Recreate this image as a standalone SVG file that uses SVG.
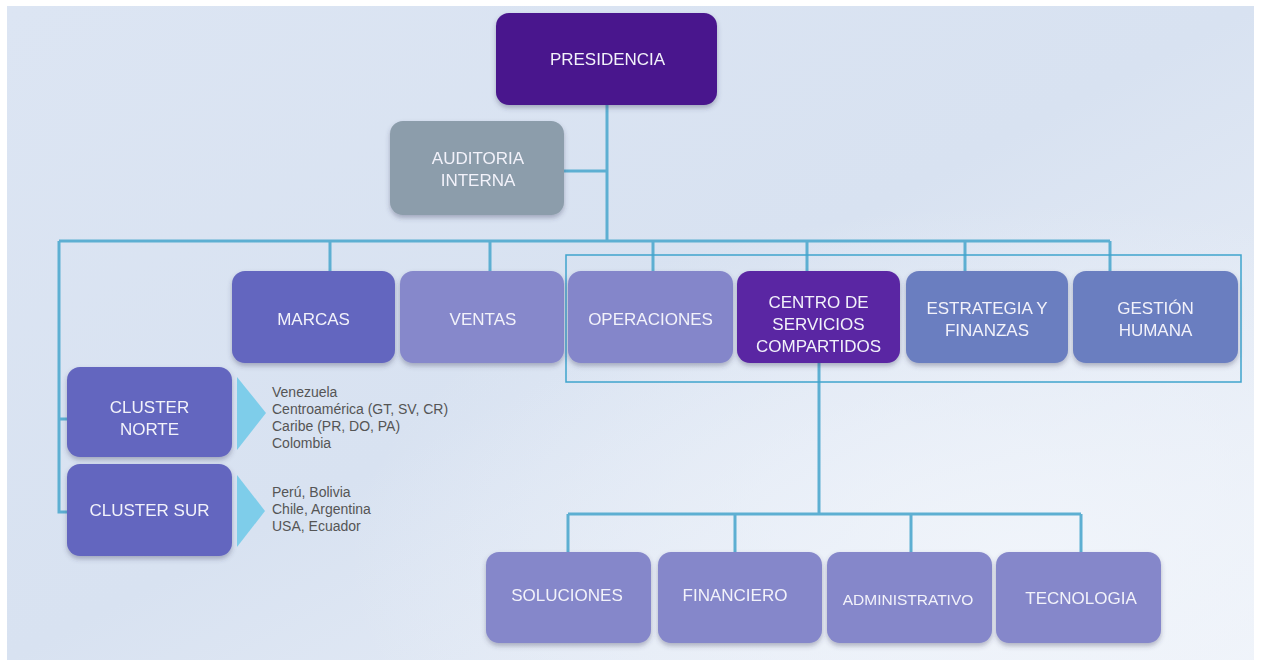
<svg xmlns="http://www.w3.org/2000/svg" width="1261" height="660" viewBox="0 0 1261 660">
<defs>
<linearGradient id="bg" x1="0" y1="0" x2="1" y2="1">
<stop offset="0" stop-color="#DCE5F3"/>
<stop offset="0.5" stop-color="#D8E2F1"/>
<stop offset="1" stop-color="#EEF2F9"/>
</linearGradient>
<radialGradient id="glow" cx="0.82" cy="0.85" r="0.55">
<stop offset="0" stop-color="#F1F5FB" stop-opacity="0.9"/>
<stop offset="1" stop-color="#F1F5FB" stop-opacity="0"/>
</radialGradient>
<filter id="sh" x="-10%" y="-10%" width="120%" height="130%">
<feDropShadow dx="0" dy="3" stdDeviation="2.5" flood-color="#3A3A60" flood-opacity="0.35"/>
</filter>
</defs>
<style>
.box{filter:url(#sh)}
.t{font-family:"Liberation Sans",Arial,sans-serif;font-size:17px;fill:#F2F2FA;text-anchor:middle}
.s{font-family:"Liberation Sans",Arial,sans-serif;font-size:14px;fill:#555555}
.ln{stroke:#5DAFD2;stroke-width:3;fill:none}
.fr{stroke:#3FA4CD;stroke-width:1.5;fill:none}
.tri{fill:#7ECDEA}
</style>
<rect x="0" y="0" width="1261" height="660" fill="#FFFFFF"/>
<rect x="7" y="6" width="1247" height="654" fill="url(#bg)"/>
<rect x="7" y="6" width="1247" height="654" fill="url(#glow)"/>

<g id="connectors">
<path class="ln" d="M607 105 V241"/>
<path class="ln" d="M564 171 H607"/>
<path class="ln" d="M59 241 H1110"/>
<path class="ln" d="M330 241 V271 M490 241 V271 M653 241 V271 M807 241 V271 M965 241 V271 M1110 241 V271"/>
<path class="ln" d="M59 241 V512 H67 M59 419 H67"/>
<path class="ln" d="M819 363 V514"/>
<path class="ln" d="M568 514 H1081 M568 514 V552 M735 514 V552 M911 514 V552 M1081 514 V552"/>
<rect class="fr" x="566" y="255" width="675" height="127"/>
</g>

<g id="presidencia" class="box"><rect x="496" y="13" width="221" height="92" rx="13" fill="#4A168D"/><text class="t" x="607.5" y="65">PRESIDENCIA</text></g>
<g id="auditoria" class="box"><rect x="390" y="121" width="174" height="94" rx="13" fill="#8C9DAB"/><text class="t" x="478" y="164">AUDITORIA</text><text class="t" x="478" y="186">INTERNA</text></g>

<g id="marcas" class="box"><rect x="232" y="271" width="163" height="92" rx="13" fill="#6366BF"/><text class="t" x="313.5" y="325">MARCAS</text></g>
<g id="ventas" class="box"><rect x="400" y="271" width="164" height="92" rx="13" fill="#8688CB"/><text class="t" x="483" y="325">VENTAS</text></g>
<g id="operaciones" class="box"><rect x="568" y="271" width="165" height="92" rx="13" fill="#8486CA"/><text class="t" x="650.5" y="325">OPERACIONES</text></g>
<g id="centro" class="box"><rect x="737" y="271" width="163" height="92" rx="13" fill="#5A26A3"/><text class="t" x="818.5" y="308">CENTRO DE</text><text class="t" x="818.5" y="330">SERVICIOS</text><text class="t" x="818.5" y="352">COMPARTIDOS</text></g>
<g id="estrategia" class="box"><rect x="906" y="271" width="162" height="92" rx="13" fill="#6B7EC0"/><text class="t" x="987" y="314">ESTRATEGIA Y</text><text class="t" x="987" y="336">FINANZAS</text></g>
<g id="gestion" class="box"><rect x="1073" y="271" width="165" height="92" rx="13" fill="#6B7EC0"/><text class="t" x="1155.5" y="314">GESTIÓN</text><text class="t" x="1155.5" y="336">HUMANA</text></g>

<g id="cluster-norte" class="box"><rect x="67" y="367" width="165" height="90" rx="13" fill="#6366BF"/><text class="t" x="149.5" y="413">CLUSTER</text><text class="t" x="149.5" y="435">NORTE</text></g>
<g id="cluster-sur" class="box"><rect x="67" y="464" width="165" height="92" rx="13" fill="#6366BF"/><text class="t" x="149.5" y="516">CLUSTER SUR</text></g>

<g id="norte-paises"><polygon class="tri" points="237,377 266,413 237,450"/><text class="s" x="272" y="397">Venezuela</text><text class="s" x="272" y="414">Centroamérica (GT, SV, CR)</text><text class="s" x="272" y="431">Caribe (PR, DO, PA)</text><text class="s" x="272" y="448">Colombia</text></g>
<g id="sur-paises"><polygon class="tri" points="237,475 265,511 237,547"/><text class="s" x="272" y="497">Perú, Bolivia</text><text class="s" x="272" y="514">Chile, Argentina</text><text class="s" x="272" y="531">USA, Ecuador</text></g>

<g id="soluciones" class="box"><rect x="486" y="552" width="165" height="91" rx="13" fill="#8587CA"/><text class="t" x="567" y="601">SOLUCIONES</text></g>
<g id="financiero" class="box"><rect x="658" y="552" width="164" height="91" rx="13" fill="#8587CA"/><text class="t" x="735" y="601">FINANCIERO</text></g>
<g id="administrativo" class="box"><rect x="827" y="552" width="165" height="91" rx="13" fill="#8587CA"/><text class="t" x="908" y="605" style="font-size:15.5px">ADMINISTRATIVO</text></g>
<g id="tecnologia" class="box"><rect x="996" y="552" width="165" height="91" rx="13" fill="#8587CA"/><text class="t" x="1081" y="604">TECNOLOGIA</text></g>
</svg>
